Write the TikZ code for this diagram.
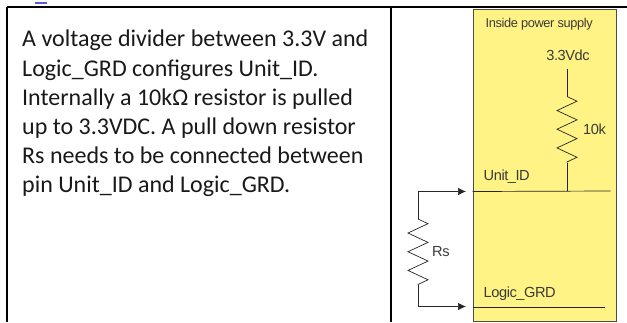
\documentclass[tikz,border=0pt]{standalone}
\usepackage{fontspec}
\setmainfont{Carlito}
\newfontfamily\schemfont[LetterSpace=-3]{Liberation Sans}
\usetikzlibrary{arrows.meta,decorations.pathmorphing}
\definecolor{supplyyellow}{HTML}{FFF385}
\definecolor{schemgray}{HTML}{3A3A3A}
\tikzset{
	tableline/.style={line width=1.6pt,black},
	wire/.style={line width=0.7pt,draw=black!85},
	pinwire/.style={wire,-{Latex[length=8pt,width=7.5pt]}},
	resistor/.style={wire,decorate,decoration={zigzag,segment length=18.7pt,amplitude=10pt}},
	schemlabel/.style={font=\schemfont\fontsize{14.6}{16}\selectfont,text=schemgray,inner sep=0pt},
}
\begin{document}
\begin{tikzpicture}[x=1pt,y=-1pt]
	\useasboundingbox (0,0) rectangle (627,322);

	\coordinate (TL) at (7,7);
	\coordinate (TM) at (391,7);
	\coordinate (TR) at (627,7);
	\coordinate (BL) at (7,322);
	\coordinate (BM) at (391,322);
	\draw[tableline] (TL)--(TR);
	\draw[tableline] (TL)--(BL);
	\draw[tableline] (TM)--(BM);
	\fill[blue!60!gray!80] (35,2) rectangle (47,3.5);

	\node[anchor=north west,inner sep=0pt,align=left,font=\fontsize{24}{29.2}\selectfont,text=black!90] (description) at (22,30)
		{A voltage divider between 3.3V and\\Logic\_GRD configures Unit\_ID.\\Internally a 10kΩ resistor is pulled\\up to 3.3VDC. A pull down resistor\\Rs needs to be connected between\\pin Unit\_ID and Logic\_GRD.};

	\node[draw=black!70,fill=supplyyellow,line width=0.7pt,minimum width=143.5pt,minimum height=312pt,inner sep=0pt,anchor=north west] (supply) at (472.7,9.3) {};

	\node[schemlabel,font=\schemfont\fontsize{12.8}{14}\selectfont,anchor=west] (inside) at (485.5,24) {Inside power supply};
	\node[schemlabel] (vdc) at (568,55.5) {3.3Vdc};
	\node[schemlabel,anchor=west] (tenk) at (583,129.5) {10k};
	\node[schemlabel,anchor=west] (unitid) at (483.5,176.5) {Unit\_ID};
	\node[schemlabel,anchor=west] (logicgrd) at (483.5,293.5) {Logic\_GRD};
	\node[schemlabel,anchor=west] (rs) at (432,251.5) {Rs};

	\coordinate (VA) at (567,68.5);
	\coordinate (VB) at (567,96.5);
	\coordinate (VC) at (567,162.5);
	\coordinate (VD) at (567,191);
	\coordinate (UA) at (472.7,191.5);
	\coordinate (UB) at (610.5,191);
	\coordinate (GA) at (472.7,307);
	\coordinate (GB) at (605,307);
	\coordinate (PA) at (418,191.5);
	\coordinate (PB) at (418,219);
	\coordinate (PC) at (418,285);
	\coordinate (PD) at (418,306.5);
	\coordinate (PE) at (466,191.5);
	\coordinate (PF) at (466,306.5);

	\draw[wire] (VA)--(VB);
	\draw[resistor] (VB)--(VC);
	\draw[wire] (VC)--(VD);
	\draw[wire] (UA)--(UB);
	\draw[wire] (GA)--(GB);
	\draw[pinwire] (PB)--(PA)--(PE);
	\draw[resistor] (PB)--(PC);
	\draw[pinwire] (PC)--(PD)--(PF);
\end{tikzpicture}
\end{document}
